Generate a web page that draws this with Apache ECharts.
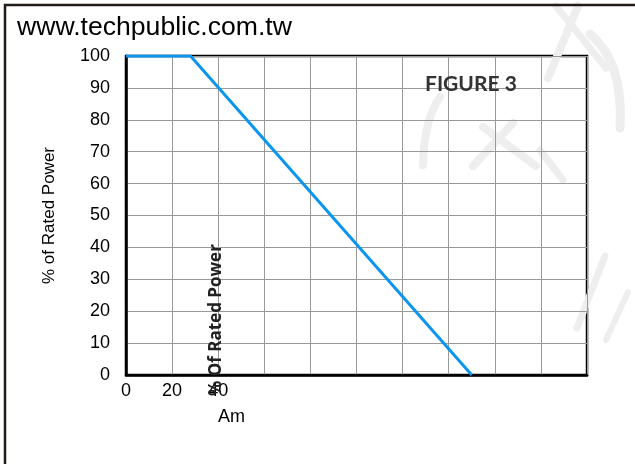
<!DOCTYPE html>
<html>
<head>
<meta charset="utf-8">
<script src="https://cdn.jsdelivr.net/npm/echarts@6/dist/echarts.min.js"></script>
<style>html,body{margin:0;padding:0;background:#fff}#c{width:635px;height:464px}</style>
</head>
<body>
<div id="c"></div>
<script>
var xLabelsShown = [0, 20, 40];
var curveX = [0, 28, 150];
var curveY = [100, 100, 0];
var siteTitle = 'www.techpublic.com.tw';
var yName = '% of Rated Power';
var xName = 'Am';
var innerLabel = '% Of Rated Power';
var figLabel = 'FIGURE 3';

var chart = echarts.init(document.getElementById('c'), null, {renderer: 'canvas'});
var pts = curveX.map(function (x, i) { return [x, curveY[i]]; });
var font = 'Liberation Sans, Arial, sans-serif';
var wm = '#eeeeee';
function wl(x1, y1, x2, y2, w) {
  return {type: 'line', shape: {x1: x1, y1: y1, x2: x2, y2: y2}, style: {stroke: wm, lineWidth: w, lineCap: 'round'}};
}
function wc(x1, y1, cx, cy, x2, y2, w) {
  return {type: 'bezierCurve', shape: {x1: x1, y1: y1, cpx1: cx, cpy1: cy, x2: x2, y2: y2}, style: {stroke: wm, lineWidth: w, fill: 'none', lineCap: 'round'}};
}
chart.setOption({
  animation: false,
  backgroundColor: '#fff',
  grid: {left: 126, right: 48, top: 56, bottom: 89, show: true, borderColor: '#000', borderWidth: 2.5, backgroundColor: 'transparent'},
  xAxis: {
    type: 'value', min: 0, max: 200, interval: 20,
    axisLine: {show: true, lineStyle: {color: '#000', width: 2.5}},
    axisTick: {show: false},
    splitLine: {show: true, lineStyle: {color: '#999', width: 1}},
    axisLabel: {
      color: '#000', fontSize: 18, fontFamily: font, margin: 7,
      formatter: function (v) { return xLabelsShown.indexOf(v) >= 0 ? String(v) : ''; }
    }
  },
  yAxis: {
    type: 'value', min: 0, max: 100, interval: 10,
    name: yName, nameLocation: 'middle', nameRotate: 90, nameGap: 68,
    nameTextStyle: {color: '#000', fontSize: 17, fontFamily: font},
    axisLine: {show: true, lineStyle: {color: '#000', width: 2.5}},
    axisTick: {show: false},
    splitLine: {show: true, lineStyle: {color: '#999', width: 1}},
    axisLabel: {color: '#000', fontSize: 18, fontFamily: font, margin: 16}
  },
  series: [{
    type: 'line', data: pts, showSymbol: false, symbol: 'none',
    lineStyle: {color: '#0a95f0', width: 3}, z: 5
  }],
  graphic: [
    {type: 'group', z: -10, silent: true, children: [
      wl(578, 6, 548, 78, 8),
      wl(556, 6, 606, 68, 7),
      wc(590, 34, 624, 62, 620, 128, 9),
      wl(513, 123, 473, 166, 8),
      wl(483, 127, 536, 166, 8),
      wc(440, 97, 424, 120, 423, 165, 8),
      wl(540, 150, 563, 180, 7),
      wl(605, 256, 577, 328, 7),
      wl(628, 292, 606, 340, 6)
    ]},
    {type: 'rect', shape: {x: 5, y: 5, width: 700, height: 520}, style: {fill: 'none', stroke: '#221b17', lineWidth: 2.5}, z: 1},
    {type: 'text', left: 17, top: 14, style: {text: siteTitle, fill: '#000', font: '26.6px ' + font}},
    {type: 'text', left: 218, top: 408, style: {text: xName, fill: '#000', font: '18px ' + font}},
    {type: 'text', x: 216, y: 396, rotation: Math.PI / 2, style: {text: innerLabel, fill: '#222', font: 'bold 17px "Open Sans", sans-serif', textAlign: 'left', textVerticalAlign: 'middle'}, z: 10},
    {type: 'text', left: 425, top: 74, style: {text: figLabel, fill: '#333', font: 'bold 21px Lato, "Open Sans", sans-serif'}, z: 10}
  ]
});
</script>
</body>
</html>
